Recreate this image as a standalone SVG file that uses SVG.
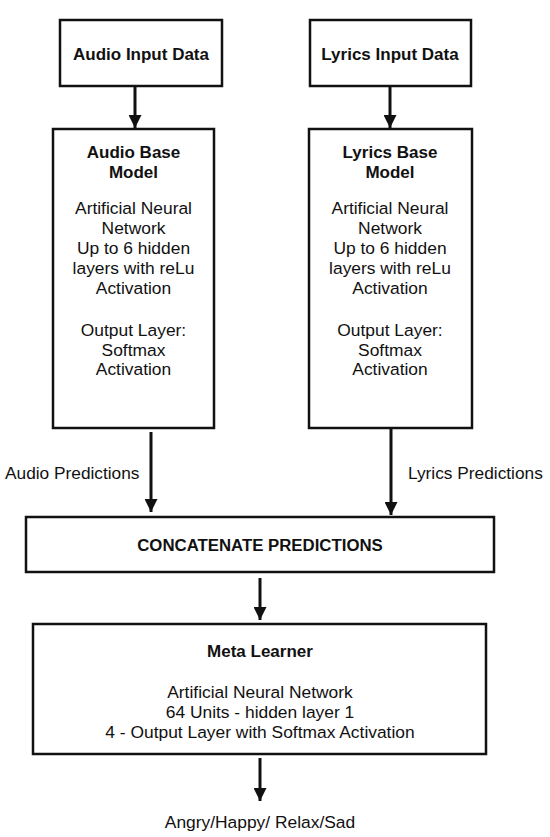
<svg xmlns="http://www.w3.org/2000/svg" width="550" height="837" viewBox="0 0 550 837">
<defs>
<style>
.box{fill:#fff;stroke:#111;stroke-width:2.5}
.t{font-family:"Liberation Sans",Arial,sans-serif;font-size:17.4px;fill:#111;text-anchor:middle}
.b{font-family:"Liberation Sans",Arial,sans-serif;font-size:17px;font-weight:bold;fill:#111;text-anchor:middle}
.lbl{font-family:"Liberation Sans",Arial,sans-serif;font-size:17.3px;fill:#111}
.c{stroke:#111;stroke-width:3;fill:none}
</style>
<marker id="ah" viewBox="0 0 13 13" refX="13" refY="6.5" markerWidth="13" markerHeight="13" markerUnits="userSpaceOnUse" orient="auto">
<path d="M0,0 L13,6.5 L0,13 Z" fill="#111"/>
</marker>
</defs>
<rect width="550" height="837" fill="#fff"/>
<g id="connectors">
<line class="c" x1="135" y1="86" x2="135" y2="128" marker-end="url(#ah)"/>
<line class="c" x1="390" y1="86" x2="390" y2="128" marker-end="url(#ah)"/>
<line class="c" x1="151" y1="432" x2="151" y2="512" marker-end="url(#ah)"/>
<line class="c" x1="391" y1="429" x2="391" y2="515" marker-end="url(#ah)"/>
<line class="c" x1="260" y1="578" x2="260" y2="620" marker-end="url(#ah)"/>
<line class="c" x1="260" y1="758" x2="260" y2="801" marker-end="url(#ah)"/>
<text class="lbl" x="5" y="479">Audio Predictions</text>
<text class="lbl" x="408" y="479">Lyrics Predictions</text>
</g>
<g id="audio-input">
<rect class="box" x="60" y="20" width="162" height="66"/>
<text class="b" x="141" y="60">Audio Input Data</text>
</g>
<g id="lyrics-input">
<rect class="box" x="310" y="20" width="161" height="66"/>
<text class="b" x="390" y="60">Lyrics Input Data</text>
</g>
<g id="audio-base">
<rect class="box" x="53" y="129" width="161" height="299"/>
<text class="b" x="133.5" y="158">Audio Base</text>
<text class="b" x="133.5" y="178">Model</text>
<text class="t" x="133.5" y="214">Artificial Neural</text>
<text class="t" x="133.5" y="234">Network</text>
<text class="t" x="133.5" y="254">Up to 6 hidden</text>
<text class="t" x="133.5" y="274">layers with reLu</text>
<text class="t" x="133.5" y="294">Activation</text>
<text class="t" x="133.5" y="336">Output Layer:</text>
<text class="t" x="133.5" y="356">Softmax</text>
<text class="t" x="133.5" y="375">Activation</text>
</g>
<g id="lyrics-base">
<rect class="box" x="309" y="129" width="163" height="299"/>
<text class="b" x="390" y="158">Lyrics Base</text>
<text class="b" x="390" y="178">Model</text>
<text class="t" x="390" y="214">Artificial Neural</text>
<text class="t" x="390" y="234">Network</text>
<text class="t" x="390" y="254">Up to 6 hidden</text>
<text class="t" x="390" y="274">layers with reLu</text>
<text class="t" x="390" y="294">Activation</text>
<text class="t" x="390" y="336">Output Layer:</text>
<text class="t" x="390" y="356">Softmax</text>
<text class="t" x="390" y="375">Activation</text>
</g>
<g id="concatenate">
<rect class="box" x="26" y="517" width="468" height="55"/>
<text class="b" x="260" y="551" style="font-size:16.8px">CONCATENATE PREDICTIONS</text>
</g>
<g id="meta-learner">
<rect class="box" x="33" y="624" width="453" height="130"/>
<text class="b" x="260" y="657">Meta Learner</text>
<text class="t" x="260" y="698">Artificial Neural Network</text>
<text class="t" x="260" y="718">64 Units - hidden layer 1</text>
<text class="t" x="260" y="738">4 - Output Layer with Softmax Activation</text>
</g>
<g id="output">
<text class="t" x="260" y="828">Angry/Happy/ Relax/Sad</text>
</g>
</svg>
